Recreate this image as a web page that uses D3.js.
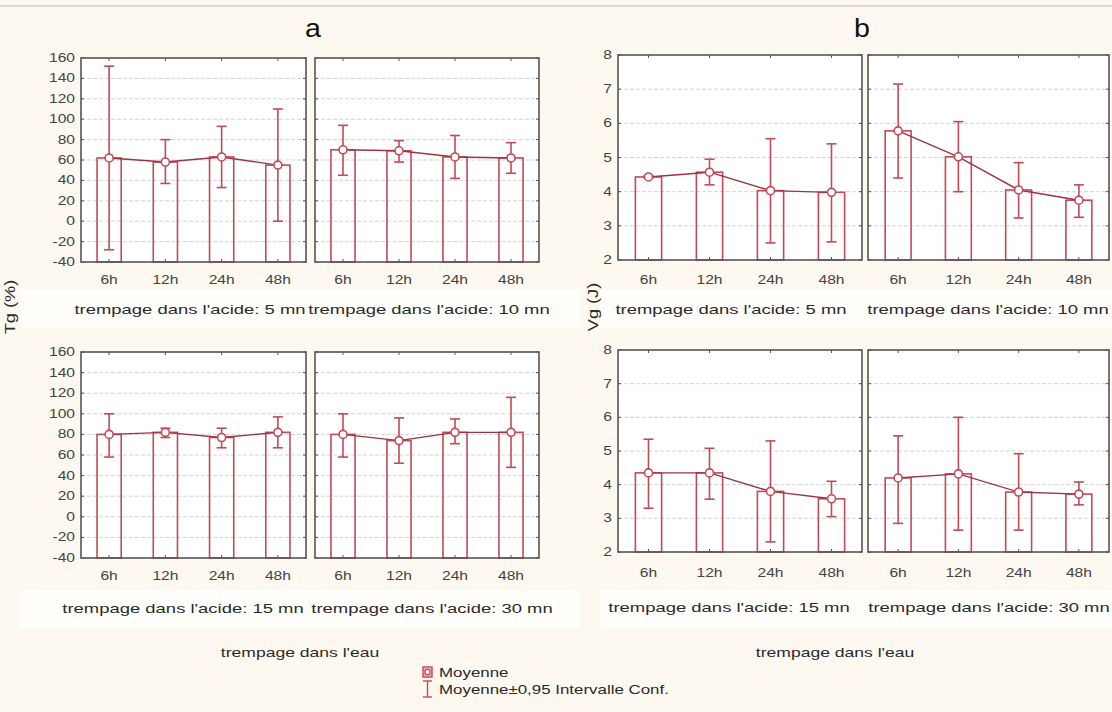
<!DOCTYPE html>
<html>
<head>
<meta charset="utf-8">
<script src="https://cdn.jsdelivr.net/npm/d3@7"></script>
<style>
  body { margin: 0; background: #fdf9f0; }
  svg { display: block; font-family: "Liberation Sans", Arial, sans-serif; }
</style>
</head>
<body>
<div id="chart"></div>
<script>
// categories
const times = ["6h", "12h", "24h", "48h"];
const acidTimes = ["5 mn", "10 mn", "15 mn", "30 mn"];
const tgTicks = [-40, -20, 0, 20, 40, 60, 80, 100, 120, 140, 160];
const vgTicks = [2, 3, 4, 5, 6, 7, 8];

// Tg (%) : one row per acid soaking time, one value per water soaking time
const tgMean = [
  [62, 58, 63, 55],
  [70, 69, 63, 62],
  [80, 82, 77, 82],
  [80, 74, 82, 82]
];
const tgLow = [
  [-28, 37, 33, 0],
  [45, 58, 42, 47],
  [58, 77, 67, 67],
  [58, 52, 71, 48]
];
const tgHigh = [
  [152, 80, 93, 110],
  [94, 79, 84, 77],
  [100, 86, 86, 97],
  [100, 96, 95, 116]
];

// Vg (J)
const vgMean = [
  [4.43, 4.57, 4.03, 3.98],
  [5.78, 5.02, 4.05, 3.75],
  [4.35, 4.35, 3.8, 3.58],
  [4.2, 4.32, 3.78, 3.72]
];
const vgLow = [
  [4.4, 4.2, 2.5, 2.53],
  [4.4, 4.0, 3.23, 3.25],
  [3.3, 3.57, 2.3, 3.05],
  [2.85, 2.65, 2.65, 3.4]
];
const vgHigh = [
  [4.47, 4.95, 5.55, 5.4],
  [7.15, 6.05, 4.85, 4.2],
  [5.35, 5.08, 5.3, 4.1],
  [5.45, 6.0, 4.92, 4.08]
];

const W = 1112, H = 712;
const barColor = "#c24a56";
const lineColor = "#9b3443";
const frameColor = "#555";
const textColor = "#2a2a2a";
const sx = 1.4; // the original picture is stretched horizontally

const svg = d3.select("#chart").append("svg")
  .attr("width", W).attr("height", H);

svg.append("rect").attr("width", W).attr("height", H).attr("fill", "#fdf9f0");
svg.append("line").attr("x1", 0).attr("x2", W).attr("y1", 6).attr("y2", 6)
  .attr("stroke", "#bbb");

// white strips behind label rows
[[20, 290, 560, 38], [20, 590, 560, 38], [600, 290, 512, 38], [600, 590, 512, 38]]
  .forEach(r => svg.append("rect").attr("x", r[0]).attr("y", r[1])
    .attr("width", r[2]).attr("height", r[3]).attr("fill", "#fffefb"));

function label(x, y, str, size, anchor, opts = {}) {
  return svg.append("text")
    .attr("transform", `translate(${x},${y}) ${opts.rotate ? "rotate(" + opts.rotate + ")" : ""} scale(${opts.sx || sx},1)`)
    .attr("text-anchor", anchor || "middle")
    .attr("font-size", size + "px")
    .attr("fill", opts.color || textColor)
    .attr("font-weight", opts.weight || "normal")
    .text(str);
}

function panel(box, mean, low, high, domain, ticks, showY, subtitle) {
  const x = d3.scaleBand().domain(times).range([box.x0, box.x1]);
  const y = d3.scaleLinear().domain(domain).range([box.y1, box.y0]);
  const g = svg.append("g");
  const bw = x.bandwidth() * 0.43;
  const cx = d => x(d) + x.bandwidth() / 2;

  g.append("rect").attr("x", box.x0).attr("y", box.y0)
    .attr("width", box.x1 - box.x0).attr("height", box.y1 - box.y0)
    .attr("fill", "#fff");

  // grid
  g.selectAll(".grid").data(ticks.slice(1, -1)).join("line")
    .attr("x1", box.x0).attr("x2", box.x1)
    .attr("y1", d => y(d)).attr("y2", d => y(d))
    .attr("stroke", "#d4d4d4").attr("stroke-dasharray", "4,2");

  // inner ticks on four sides
  ticks.forEach(t => {
    g.append("line").attr("x1", box.x0).attr("x2", box.x0 + 3)
      .attr("y1", y(t)).attr("y2", y(t)).attr("stroke", frameColor);
    g.append("line").attr("x1", box.x1 - 3).attr("x2", box.x1)
      .attr("y1", y(t)).attr("y2", y(t)).attr("stroke", frameColor);
  });
  times.forEach(t => {
    g.append("line").attr("x1", cx(t)).attr("x2", cx(t))
      .attr("y1", box.y0).attr("y2", box.y0 + 3).attr("stroke", frameColor);
    g.append("line").attr("x1", cx(t)).attr("x2", cx(t))
      .attr("y1", box.y1 - 3).attr("y2", box.y1).attr("stroke", frameColor);
  });

  // bars
  g.selectAll(".bar").data(times).join("rect")
    .attr("x", d => cx(d) - bw / 2)
    .attr("y", (d, i) => y(mean[i]))
    .attr("width", bw)
    .attr("height", (d, i) => box.y1 - y(mean[i]))
    .attr("fill", "none").attr("stroke", barColor).attr("stroke-width", 1.6);

  // line through means
  g.append("path")
    .attr("d", d3.line().x((d, i) => cx(times[i])).y(d => y(d))(mean))
    .attr("fill", "none").attr("stroke", lineColor).attr("stroke-width", 1.4);

  // error bars
  times.forEach((t, i) => {
    const c = cx(t);
    g.append("line").attr("x1", c).attr("x2", c)
      .attr("y1", y(low[i])).attr("y2", y(high[i]))
      .attr("stroke", barColor).attr("stroke-width", 1.6);
    [low[i], high[i]].forEach(v => {
      g.append("line").attr("x1", c - 5).attr("x2", c + 5)
        .attr("y1", y(v)).attr("y2", y(v))
        .attr("stroke", barColor).attr("stroke-width", 1.6);
    });
  });

  // mean markers
  g.selectAll(".pt").data(mean).join("circle")
    .attr("cx", (d, i) => cx(times[i])).attr("cy", d => y(d)).attr("r", 4)
    .attr("fill", "#fff").attr("stroke", barColor).attr("stroke-width", 1.6);

  // frame
  g.append("rect").attr("x", box.x0).attr("y", box.y0)
    .attr("width", box.x1 - box.x0).attr("height", box.y1 - box.y0)
    .attr("fill", "none").attr("stroke", frameColor).attr("stroke-width", 1.6);

  if (showY) {
    ticks.forEach(t => label(box.x0 - 6, y(t) + 4, t, 12, "end", { color: "#444", sx: 1.3 }));
  }
  times.forEach(t => label(cx(t), box.tickY, t, 12, "middle", { color: "#444", sx: 1.3 }));
  label(box.subX, box.subY, "trempage dans l'acide: " + subtitle, 13, "middle", { sx: 1.42 });
}

const layoutA = [
  { x0: 81, x1: 306, y0: 58, y1: 262, subX: 190, subY: 314, tickY: 284 },
  { x0: 315, x1: 539, y0: 58, y1: 262, subX: 429, subY: 314, tickY: 284 },
  { x0: 81, x1: 306, y0: 352, y1: 558, subX: 183, subY: 613, tickY: 580 },
  { x0: 315, x1: 539, y0: 352, y1: 558, subX: 432, subY: 613, tickY: 580 }
];
const layoutB = [
  { x0: 618, x1: 862, y0: 55, y1: 260, subX: 731, subY: 314, tickY: 284 },
  { x0: 868, x1: 1109, y0: 55, y1: 260, subX: 988, subY: 314, tickY: 284 },
  { x0: 618, x1: 862, y0: 350, y1: 552, subX: 729, subY: 612, tickY: 577 },
  { x0: 868, x1: 1109, y0: 350, y1: 552, subX: 989, subY: 612, tickY: 577 }
];

acidTimes.forEach((a, k) => {
  panel(layoutA[k], tgMean[k], tgLow[k], tgHigh[k], [-40, 160], tgTicks, k % 2 === 0, a);
  panel(layoutB[k], vgMean[k], vgLow[k], vgHigh[k], [2, 8], vgTicks, k % 2 === 0, a);
});

// titles and axis names
label(313, 37, "a", 26, "middle", { sx: 1.1, color: "#111" });
label(862, 37, "b", 26, "middle", { sx: 1.1, color: "#111" });
label(15, 307, "Tg (%)", 14, "middle", { rotate: -90, sx: 1.3 });
label(598, 307, "Vg (J)", 14, "middle", { rotate: -90, sx: 1.3 });
label(300, 657, "trempage dans l'eau", 13, "middle", { sx: 1.35 });
label(835, 657, "trempage dans l'eau", 13, "middle", { sx: 1.35 });

// legend
const lg = svg.append("g");
lg.append("rect").attr("x", 423).attr("y", 667).attr("width", 9).attr("height", 10)
  .attr("fill", "#e6b6bb").attr("stroke", barColor).attr("stroke-width", 1.4);
lg.append("circle").attr("cx", 427.5).attr("cy", 672).attr("r", 2.6)
  .attr("fill", "#fff").attr("stroke", barColor).attr("stroke-width", 1.2);
lg.append("line").attr("x1", 427.5).attr("x2", 427.5).attr("y1", 681).attr("y2", 697)
  .attr("stroke", barColor).attr("stroke-width", 1.4);
[681, 697].forEach(v => lg.append("line").attr("x1", 423).attr("x2", 432)
  .attr("y1", v).attr("y2", v).attr("stroke", barColor).attr("stroke-width", 1.4));
label(439, 677, "Moyenne", 13, "start", { sx: 1.3 });
label(439, 694, "Moyenne\u00b10,95 Intervalle Conf.", 13, "start", { sx: 1.3 });
</script>
</body>
</html>
